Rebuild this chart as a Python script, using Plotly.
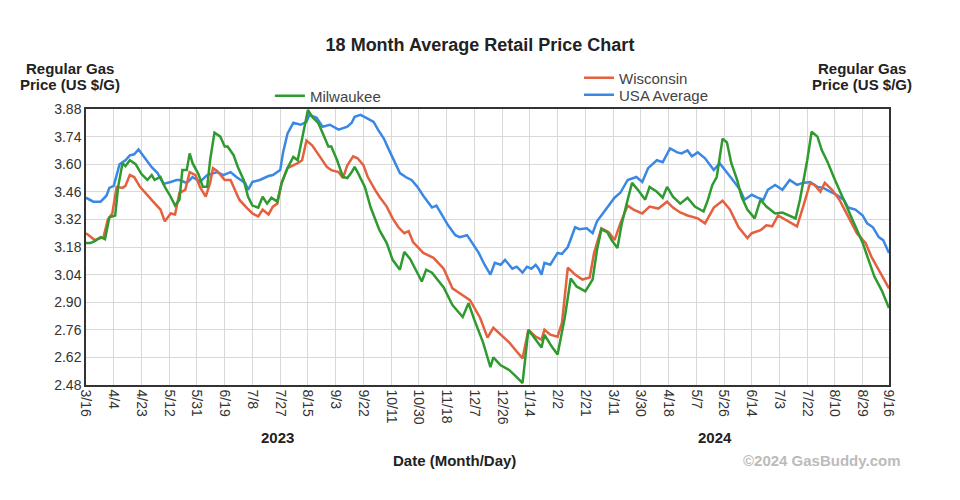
import plotly.graph_objects as go

# ---------------- data ----------------
usa_dates = ["2023-03-16","2023-03-21","2023-03-26","2023-03-30","2023-04-01","2023-04-04","2023-04-08","2023-04-12","2023-04-15","2023-04-18",
             "2023-04-21","2023-04-23","2023-04-25","2023-04-30","2023-05-04","2023-05-08","2023-05-13","2023-05-17","2023-05-19","2023-05-24",
             "2023-05-28","2023-06-02","2023-06-07","2023-06-10","2023-06-14","2023-06-18","2023-06-23","2023-06-27","2023-07-03","2023-07-05",
             "2023-07-08","2023-07-13","2023-07-19","2023-07-22","2023-07-27","2023-07-29","2023-08-01","2023-08-05","2023-08-10","2023-08-14",
             "2023-08-16","2023-08-21","2023-08-25","2023-08-30","2023-09-05","2023-09-11","2023-09-14","2023-09-16","2023-09-20","2023-09-24",
             "2023-09-29","2023-10-02","2023-10-06","2023-10-10","2023-10-14","2023-10-17","2023-10-22","2023-10-25","2023-10-29","2023-11-02",
             "2023-11-08","2023-11-11","2023-11-15","2023-11-19","2023-11-24","2023-11-27","2023-12-02","2023-12-05","2023-12-10","2023-12-14",
             "2023-12-18","2023-12-21","2023-12-25","2023-12-28","2024-01-02","2024-01-05","2024-01-09","2024-01-12","2024-01-15","2024-01-18",
             "2024-01-20","2024-01-22","2024-01-24","2024-01-28","2024-02-02","2024-02-05","2024-02-09","2024-02-14","2024-02-17","2024-02-22",
             "2024-02-26","2024-02-29","2024-03-04","2024-03-09","2024-03-12","2024-03-16","2024-03-21","2024-03-25","2024-03-27","2024-03-31",
             "2024-04-04","2024-04-10","2024-04-14","2024-04-19","2024-04-24","2024-04-27","2024-05-01","2024-05-04","2024-05-08","2024-05-13",
             "2024-05-19","2024-05-23","2024-05-28","2024-06-01","2024-06-06","2024-06-09","2024-06-14","2024-06-18","2024-06-22","2024-06-25",
             "2024-06-30","2024-07-05","2024-07-10","2024-07-15","2024-07-19","2024-07-24","2024-07-29","2024-08-02","2024-08-07","2024-08-11",
             "2024-08-16","2024-08-19","2024-08-24","2024-08-29","2024-09-01","2024-09-05","2024-09-09","2024-09-12","2024-09-16"]
usa_prices = [3.43,3.41,3.41,3.44,3.48,3.49,3.60,3.62,3.645,3.65,
              3.675,3.655,3.635,3.585,3.555,3.50,3.51,3.52,3.52,3.505,
              3.535,3.51,3.545,3.55,3.56,3.545,3.56,3.535,3.505,3.47,
              3.51,3.52,3.54,3.545,3.57,3.66,3.755,3.81,3.80,3.815,
              3.85,3.835,3.79,3.80,3.775,3.79,3.81,3.84,3.85,3.835,
              3.815,3.775,3.73,3.665,3.60,3.555,3.53,3.52,3.485,3.44,
              3.38,3.39,3.34,3.29,3.24,3.23,3.24,3.205,3.15,3.09,
              3.04,3.10,3.09,3.115,3.07,3.08,3.05,3.08,3.07,3.09,
              3.07,3.04,3.10,3.09,3.15,3.145,3.18,3.28,3.27,3.275,
              3.25,3.31,3.35,3.40,3.43,3.455,3.52,3.53,3.535,3.51,
              3.58,3.62,3.61,3.68,3.66,3.655,3.67,3.64,3.66,3.63,
              3.57,3.605,3.56,3.52,3.47,3.42,3.445,3.43,3.42,3.47,
              3.495,3.47,3.52,3.495,3.505,3.51,3.485,3.48,3.46,3.445,
              3.42,3.38,3.37,3.34,3.30,3.28,3.23,3.215,3.15]

wi_dates = ["2023-03-16","2023-03-22","2023-03-28","2023-03-31","2023-04-03","2023-04-06","2023-04-10","2023-04-12","2023-04-15","2023-04-18",
            "2023-04-22","2023-04-27","2023-05-01","2023-05-06","2023-05-09","2023-05-13","2023-05-16","2023-05-19","2023-05-23","2023-05-26",
            "2023-05-30","2023-06-02","2023-06-06","2023-06-09","2023-06-11","2023-06-14","2023-06-19","2023-06-23","2023-06-26","2023-06-29",
            "2023-07-04","2023-07-08","2023-07-12","2023-07-15","2023-07-19","2023-07-22","2023-07-25","2023-07-28","2023-08-01","2023-08-08",
            "2023-08-11","2023-08-14","2023-08-18","2023-08-23","2023-08-28","2023-08-31","2023-09-05","2023-09-08","2023-09-11","2023-09-15",
            "2023-09-18","2023-09-22","2023-09-25","2023-09-30","2023-10-03","2023-10-08","2023-10-12","2023-10-16","2023-10-20","2023-10-23",
            "2023-10-26","2023-11-02","2023-11-09","2023-11-16","2023-11-22","2023-11-29","2023-12-04","2023-12-11","2023-12-16","2023-12-20",
            "2023-12-25","2023-12-31","2024-01-05","2024-01-09","2024-01-13","2024-01-18","2024-01-22","2024-01-24","2024-01-28","2024-02-02",
            "2024-02-05","2024-02-09","2024-02-14","2024-02-19","2024-02-24","2024-02-27","2024-03-03","2024-03-08","2024-03-12","2024-03-16",
            "2024-03-21","2024-03-25","2024-03-31","2024-04-05","2024-04-11","2024-04-17","2024-04-21","2024-04-26","2024-05-01","2024-05-08",
            "2024-05-13","2024-05-19","2024-05-25","2024-05-30","2024-06-05","2024-06-11","2024-06-14","2024-06-20","2024-06-24","2024-06-28",
            "2024-07-02","2024-07-07","2024-07-12","2024-07-15","2024-07-19","2024-07-24","2024-07-27","2024-07-31","2024-08-03","2024-08-08",
            "2024-08-13","2024-08-19","2024-08-25","2024-08-31","2024-09-04","2024-09-10","2024-09-16"]
wi_prices = [3.25,3.215,3.23,3.32,3.35,3.485,3.48,3.49,3.545,3.535,
             3.485,3.44,3.41,3.37,3.31,3.35,3.345,3.455,3.47,3.56,
             3.545,3.485,3.435,3.505,3.58,3.565,3.52,3.52,3.47,3.42,
             3.38,3.35,3.335,3.37,3.345,3.385,3.40,3.505,3.58,3.605,
             3.62,3.72,3.695,3.64,3.586,3.57,3.56,3.53,3.595,3.64,
             3.63,3.595,3.535,3.47,3.435,3.385,3.325,3.28,3.25,3.26,
             3.205,3.15,3.125,3.07,2.97,2.935,2.91,2.82,2.72,2.77,
             2.735,2.695,2.65,2.615,2.76,2.725,2.71,2.76,2.735,2.725,
             2.795,3.075,3.04,3.015,3.025,3.15,3.275,3.255,3.215,3.30,
             3.39,3.37,3.35,3.385,3.375,3.41,3.38,3.355,3.34,3.325,
             3.30,3.38,3.415,3.37,3.28,3.225,3.25,3.265,3.29,3.285,
             3.34,3.32,3.30,3.285,3.38,3.505,3.495,3.46,3.505,3.47,
             3.42,3.335,3.25,3.20,3.13,3.05,2.97]

mke_dates = ["2023-03-16","2023-03-19","2023-03-22","2023-03-26","2023-03-29","2023-04-01","2023-04-05","2023-04-07","2023-04-10","2023-04-12",
             "2023-04-15","2023-04-19","2023-04-23","2023-04-27","2023-04-30","2023-05-02","2023-05-06","2023-05-09","2023-05-13","2023-05-16",
             "2023-05-19","2023-05-21","2023-05-24","2023-05-26","2023-05-28","2023-06-01","2023-06-04","2023-06-07","2023-06-09","2023-06-12",
             "2023-06-16","2023-06-19","2023-06-21","2023-06-25","2023-06-28","2023-07-02","2023-07-05","2023-07-08","2023-07-12","2023-07-15",
             "2023-07-18","2023-07-21","2023-07-25","2023-07-28","2023-08-01","2023-08-05","2023-08-08","2023-08-12","2023-08-15","2023-08-18",
             "2023-08-22","2023-08-25","2023-08-29","2023-08-31","2023-09-04","2023-09-08","2023-09-11","2023-09-14","2023-09-16","2023-09-18",
             "2023-09-23","2023-09-27","2023-10-01","2023-10-03","2023-10-08","2023-10-12","2023-10-17","2023-10-20","2023-10-24","2023-10-29",
             "2023-11-01","2023-11-04","2023-11-08","2023-11-16","2023-11-22","2023-11-29","2023-12-03","2023-12-07","2023-12-13","2023-12-18",
             "2023-12-20","2023-12-25","2023-12-31","2024-01-05","2024-01-09","2024-01-13","2024-01-18","2024-01-22","2024-01-24","2024-01-29",
             "2024-02-02","2024-02-07","2024-02-11","2024-02-15","2024-02-21","2024-02-26","2024-02-29","2024-03-03","2024-03-07","2024-03-10",
             "2024-03-14","2024-03-17","2024-03-21","2024-03-24","2024-03-28","2024-04-02","2024-04-05","2024-04-10","2024-04-14","2024-04-17",
             "2024-04-21","2024-04-26","2024-05-01","2024-05-06","2024-05-12","2024-05-15","2024-05-18","2024-05-21","2024-05-25","2024-05-28",
             "2024-05-31","2024-06-04","2024-06-07","2024-06-11","2024-06-16","2024-06-20","2024-06-24","2024-06-30","2024-07-05","2024-07-09",
             "2024-07-14","2024-07-17","2024-07-22","2024-07-25","2024-07-29","2024-08-01","2024-08-05","2024-08-10","2024-08-15","2024-08-19",
             "2024-08-24","2024-08-29","2024-09-02","2024-09-06","2024-09-11","2024-09-16"]
mke_prices = [3.20,3.20,3.21,3.23,3.22,3.33,3.34,3.485,3.605,3.59,
              3.62,3.60,3.55,3.52,3.545,3.52,3.535,3.485,3.435,3.39,
              3.42,3.57,3.57,3.655,3.605,3.55,3.485,3.485,3.62,3.76,
              3.74,3.69,3.69,3.647,3.586,3.52,3.435,3.39,3.38,3.435,
              3.40,3.43,3.41,3.505,3.58,3.637,3.62,3.76,3.875,3.84,
              3.81,3.76,3.69,3.69,3.62,3.535,3.53,3.56,3.586,3.56,
              3.485,3.38,3.30,3.265,3.20,3.115,3.065,3.155,3.12,3.05,
              3.005,3.065,3.05,2.975,2.885,2.825,2.895,2.81,2.695,2.57,
              2.62,2.58,2.555,2.52,2.49,2.76,2.71,2.67,2.735,2.675,
              2.635,2.825,3.02,2.98,2.955,3.015,3.165,3.27,3.255,3.215,
              3.175,3.30,3.42,3.505,3.47,3.42,3.485,3.46,3.43,3.485,
              3.435,3.40,3.43,3.385,3.36,3.42,3.495,3.535,3.73,3.71,
              3.605,3.52,3.435,3.37,3.325,3.42,3.385,3.35,3.355,3.34,
              3.325,3.42,3.62,3.765,3.74,3.67,3.61,3.52,3.435,3.37,
              3.28,3.20,3.115,3.03,2.96,2.87]

tick_dates = ["2023-03-16","2023-04-04","2023-04-23","2023-05-12","2023-05-31","2023-06-19","2023-07-08","2023-07-27","2023-08-15","2023-09-03",
              "2023-09-22","2023-10-11","2023-10-30","2023-11-18","2023-12-07","2023-12-26","2024-01-14","2024-02-02","2024-02-21","2024-03-11",
              "2024-03-30","2024-04-18","2024-05-07","2024-05-26","2024-06-14","2024-07-03","2024-07-22","2024-08-10","2024-08-29","2024-09-16"]
tick_labels = ["3/16","4/4","4/23","5/12","5/31","6/19","7/8","7/27","8/15","9/3",
               "9/22","10/11","10/30","11/18","12/7","12/26","1/14","2/2","2/21","3/11",
               "3/30","4/18","5/7","5/26","6/14","7/3","7/22","8/10","8/29","9/16"]
price_ticks = [2.48, 2.62, 2.76, 2.90, 3.04, 3.18, 3.32, 3.46, 3.60, 3.74, 3.88]

# ---------------- figure ----------------
FONT = "Liberation Sans, Arial, sans-serif"
GREEN = "#2f9a2f"
RED = "#e4603e"
BLUE = "#3a88e4"
TICK_FONT = dict(family=FONT, size=14, color="#333333")
LEG_FONT = dict(family=FONT, size=15, color="#444444")

fig = go.Figure()
fig.add_trace(go.Scatter(x=usa_dates, y=usa_prices, mode="lines", name="USA Average",
                         line=dict(color=BLUE, width=2.5), legend="legend3"))
fig.add_trace(go.Scatter(x=wi_dates, y=wi_prices, mode="lines", name="Wisconsin",
                         line=dict(color=RED, width=2.5), legend="legend2"))
fig.add_trace(go.Scatter(x=mke_dates, y=mke_prices, mode="lines", name="Milwaukee",
                         line=dict(color=GREEN, width=2.5), legend="legend"))

axis_common = dict(showgrid=True, gridcolor="#d9d9d9", gridwidth=1,
                   showline=True, linecolor="#333333", linewidth=1.5,
                   ticks="", zeroline=False, tickfont=TICK_FONT)

leg_common = dict(xanchor="left", yanchor="middle", bgcolor="rgba(0,0,0,0)",
                  font=LEG_FONT, itemwidth=30, tracegroupgap=0)

fig.update_layout(
    width=960, height=500,
    margin=dict(l=86, r=71, t=109, b=115),
    paper_bgcolor="white", plot_bgcolor="white",
    font=dict(family=FONT, color="#333333"),
    title=dict(text="<b>18 Month Average Retail Price Chart</b>",
               x=0.5, xanchor="center", y=0.91, yanchor="middle",
               font=dict(family=FONT, size=18, color="#222222")),
    xaxis=dict(type="date", range=["2023-03-16", "2024-09-16"],
               tickmode="array", tickvals=tick_dates, ticktext=tick_labels,
               tickangle=90, mirror=True, **axis_common),
    yaxis=dict(range=[2.48, 3.88], tickmode="array", tickvals=price_ticks,
               tickformat=".2f", mirror=True, **axis_common),
    yaxis2=dict(range=[2.48, 3.88], tickmode="array", tickvals=price_ticks,
                tickformat=".2f", overlaying="y", side="right", showgrid=False,
                showline=False, ticks="", zeroline=False, tickfont=TICK_FONT),
    legend=dict(x=0.229, y=1.047, **leg_common),
    legend2=dict(x=0.614, y=1.112, **leg_common),
    legend3=dict(x=0.614, y=1.051, **leg_common),
    showlegend=True,
)

ann_font = dict(family=FONT, size=15, color="#222222")
for xp in (-0.02, 0.966):
    fig.add_annotation(text="<b>Regular Gas</b>", xref="paper", yref="paper",
                       x=xp, y=1.148, xanchor="center", yanchor="middle", showarrow=False,
                       font=ann_font)
    fig.add_annotation(text="<b>Price (US $/G)</b>", xref="paper", yref="paper",
                       x=xp, y=1.090, xanchor="center", yanchor="middle", showarrow=False,
                       font=ann_font)
fig.add_annotation(text="<b>2023</b>", xref="paper", yref="paper", x=0.239, y=-0.192,
                   xanchor="center", yanchor="middle", showarrow=False, font=ann_font)
fig.add_annotation(text="<b>2024</b>", xref="paper", yref="paper", x=0.783, y=-0.192,
                   xanchor="center", yanchor="middle", showarrow=False, font=ann_font)
fig.add_annotation(text="<b>Date (Month/Day)</b>", xref="paper", yref="paper", x=0.459, y=-0.275,
                   xanchor="center", yanchor="middle", showarrow=False, font=ann_font)
fig.add_annotation(text="<b>©2024 GasBuddy.com</b>", xref="paper", yref="paper", x=0.917, y=-0.275,
                   xanchor="center", yanchor="middle", showarrow=False,
                   font=dict(family=FONT, size=15, color="#bbbbbb"))

fig.write_html("out.html")
